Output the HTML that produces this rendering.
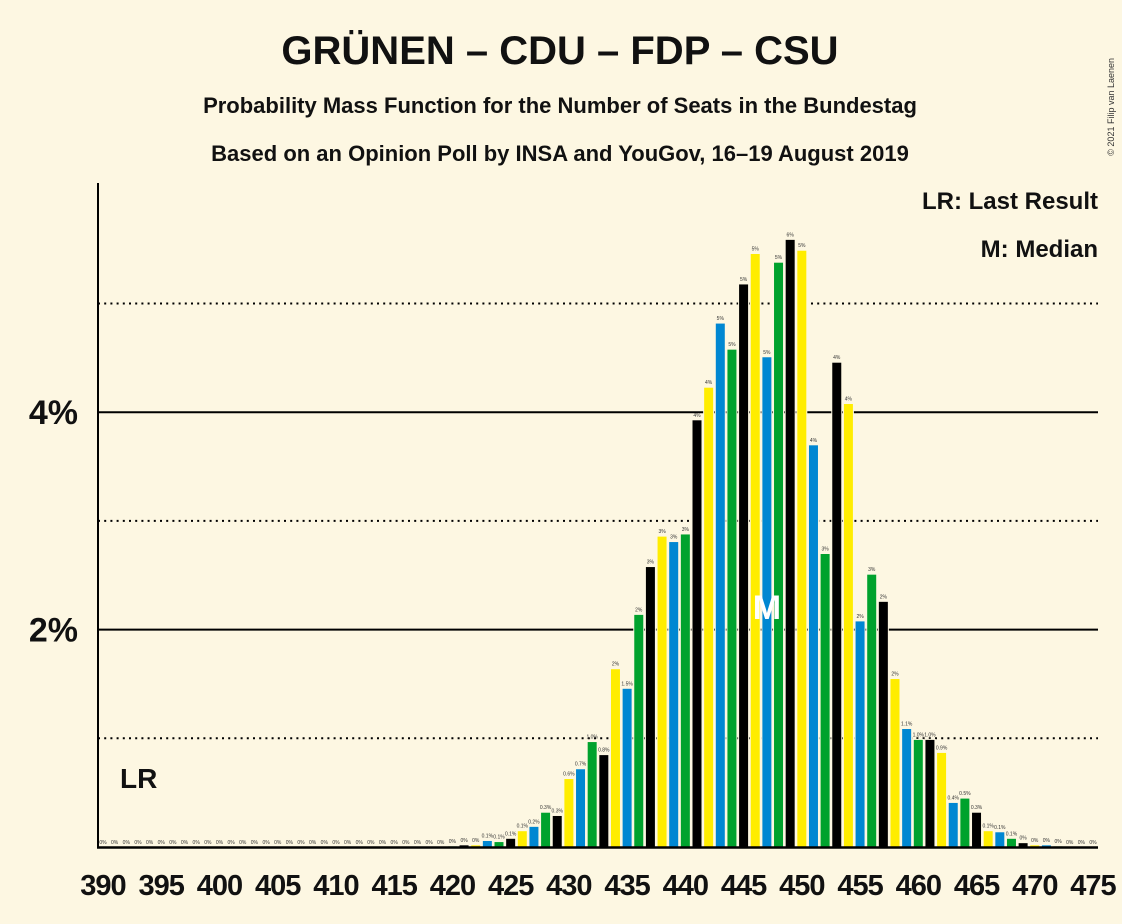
<!DOCTYPE html>
<html><head><meta charset="utf-8">
<style>
html,body{margin:0;padding:0;background:#fdf7e2;}
svg{display:block;font-family:"Liberation Sans",sans-serif;}
</style></head>
<body>
<svg id="chart" width="1122" height="924" viewBox="0 0 1122 924">
<rect width="1122" height="924" fill="#fdf7e2"/>
<text x="560" y="64" text-anchor="middle" font-size="40" font-weight="bold" fill="#111">GRÜNEN – CDU – FDP – CSU</text>
<text x="560" y="113" text-anchor="middle" font-size="22" font-weight="bold" fill="#111">Probability Mass Function for the Number of Seats in the Bundestag</text>
<text x="560" y="161" text-anchor="middle" font-size="22" font-weight="bold" fill="#111">Based on an Opinion Poll by INSA and YouGov, 16–19 August 2019</text>
<text x="1114" y="58" transform="rotate(-90 1114 58)" text-anchor="end" font-size="9" fill="#333">© 2021 Filip van Laenen</text>
<text x="1098" y="209" text-anchor="end" font-size="24" font-weight="bold" fill="#111">LR: Last Result</text>
<text x="1098" y="257" text-anchor="end" font-size="24" font-weight="bold" fill="#111">M: Median</text>
<g id="grid"></g>
<g id="bars"></g>
<g id="xlabels"></g>
<line x1="98" y1="183" x2="98" y2="848" stroke="#000" stroke-width="2"/>
<line x1="97" y1="847.5" x2="1098" y2="847.5" stroke="#000" stroke-width="2.5"/>
<text x="120" y="788" font-size="28" font-weight="bold" fill="#111">LR</text>
</svg>
<script>
const seats = [];
for (let s = 390; s <= 475; s++) seats.push(s);
const probs = [
0,0,0,0,0,0,0,0,0,0,
0,0,0,0,0,0,0,0,0,0,
0,0,0,0,0,0,0,0,0,0,
0.01,0.02,0.02,0.06,0.05,0.08,0.15,0.19,0.32,0.29,
0.63,0.72,0.97,0.85,1.64,1.46,2.14,2.58,2.86,2.81,
2.88,3.93,4.23,4.82,4.58,5.18,5.46,4.51,5.38,5.59,
5.49,3.70,2.70,4.46,4.08,2.08,2.51,2.26,1.55,1.09,
0.99,0.99,0.87,0.41,0.45,0.32,0.15,0.14,0.08,0.04,
0.02,0.02,0.01,0,0,0
];
const yTicks = [2, 4];
const yTickLabels = ["2%", "4%"];
const dottedTicks = [1, 3, 5];
const medianSeat = 447;
const colors = ["#000000", "#ffed00", "#0087d2", "#00a22d"];

const NS = "http://www.w3.org/2000/svg";
const x0 = 103, step = (1093 - 103) / 85, bw = 10;
const yZero = 847, pxPerPct = 108.7;
const xPos = s => x0 + (s - 390) * step;
const yPos = v => yZero - v * pxPerPct;
function mk(tag, attrs, parent) {
  const e = document.createElementNS(NS, tag);
  for (const k in attrs) e.setAttribute(k, attrs[k]);
  parent.appendChild(e);
  return e;
}
const grid = document.getElementById("grid");
yTicks.forEach((t, i) => {
  const l = mk("line", {x1: 98, x2: 1098, y1: yPos(t), y2: yPos(t), stroke: "#000", "stroke-width": 2}, grid);
  
  
  const tx = mk("text", {x: 78, y: yPos(t) + 12, "text-anchor": "end", "font-size": 34, "font-weight": "bold", fill: "#111"}, grid);
  tx.textContent = yTickLabels[i];
  
  
});
dottedTicks.forEach(t => {
  const l = mk("line", {x1: 98, x2: 1098, y1: yPos(t), y2: yPos(t), stroke: "#000", "stroke-width": 2, "stroke-dasharray": "2 4.2"}, grid);
  
  
});
const bars = document.getElementById("bars");
function fmt(v) {
  if (v < 0.05) return "0%";
  if (v < 1.5) return v.toFixed(1) + "%";
  return Math.round(v) + "%";
}
seats.forEach((s, i) => {
  const v = probs[i];
  const c = colors[(((s - 441) % 4) + 4) % 4];
  const cx = xPos(s);
  const top = yPos(v);
  const r = mk("rect", {x: cx - bw / 2, y: top, width: bw, height: Math.max(0, yZero - top), fill: c, stroke: "#fdf7e2", "stroke-width": 1}, bars);
  
  
  const t = mk("text", {x: cx, y: top - 3, "text-anchor": "middle", "font-size": 5, fill: "#333"}, bars);
  t.textContent = fmt(v);
  
  
});
const m = mk("text", {x: xPos(medianSeat), y: 619, "text-anchor": "middle", "font-size": 34, "font-weight": "bold", fill: "#fff"}, bars);
m.textContent = "M";


const xl = document.getElementById("xlabels");
seats.forEach(s => {
  if (s % 5 !== 0) return;
  const t = mk("text", {x: xPos(s), y: 895, "text-anchor": "middle", "font-size": 29, "font-weight": "bold", fill: "#111", "letter-spacing": "-1"}, xl);
  t.textContent = s;
  
  
});
</script>
</body></html>
